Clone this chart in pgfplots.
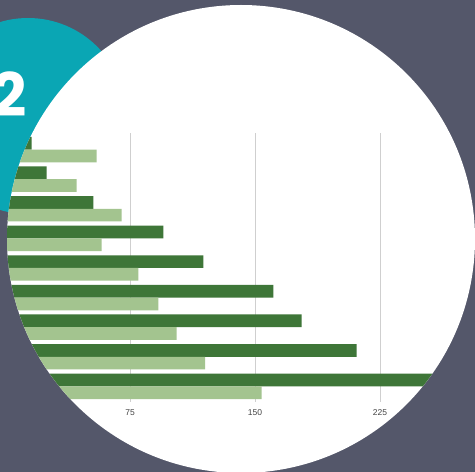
\documentclass[border=0pt]{standalone}
\usepackage{pgfplots}
\pgfplotsset{compat=1.18}
\usepackage{fontspec}
\setmainfont{Liberation Sans}
\newfontfamily\pop{Poppins}
\definecolor{bg}{HTML}{54576A}
\definecolor{teal2}{HTML}{0AA6B4}
\definecolor{dkg}{HTML}{3E7638}
\definecolor{ltg}{HTML}{A3C48F}
\definecolor{gridc}{HTML}{CFCFCF}
\definecolor{tickc}{HTML}{444444}
\begin{document}
\begin{tikzpicture}[x=1pt,y=1pt]
\fill[bg] (0,0) rectangle (475,472);
\fill[teal2] (28,356) circle (98);
\node[text=white, font=\pop\bfseries\fontsize{60}{60}\selectfont] at (10,378) {2};
\fill[white] (241,233) circle (234);
\begin{scope}
\clip (241,233) circle (234);
\begin{axis}[
  anchor=south west, at={(5pt,70pt)},
  x=1.6667pt, y=29.6pt,
  xmin=0, xmax=290, ymin=0.473, ymax=9.554,
  xbar, bar width=12.7pt,
  axis line style={draw=none},
  major tick length=0pt,
  xmajorgrids,
  grid style={gridc, line width=0.6pt},
  ytick=\empty,
  xtick={0,75,150,225},
  /pgf/number format/assume math mode=true,
  xticklabel style={text=tickc, font=\fontsize{8.5}{9}\selectfont, yshift=-4pt},
]
\addplot[fill=dkg, draw=none, bar shift=6.35pt] coordinates {(280,1) (211,2) (178,3) (161,4) (119,5) (95,6) (53,7) (25,8) (16,9)};
\addplot[fill=ltg, draw=none, bar shift=-6.35pt] coordinates {(154,1) (120,2) (103,3) (92,4) (80,5) (58,6) (70,7) (43,8) (55,9)};
\end{axis}
\end{scope}
\pgfresetboundingbox
\useasboundingbox (0,0) rectangle (475,472);
\end{tikzpicture}
\end{document}
